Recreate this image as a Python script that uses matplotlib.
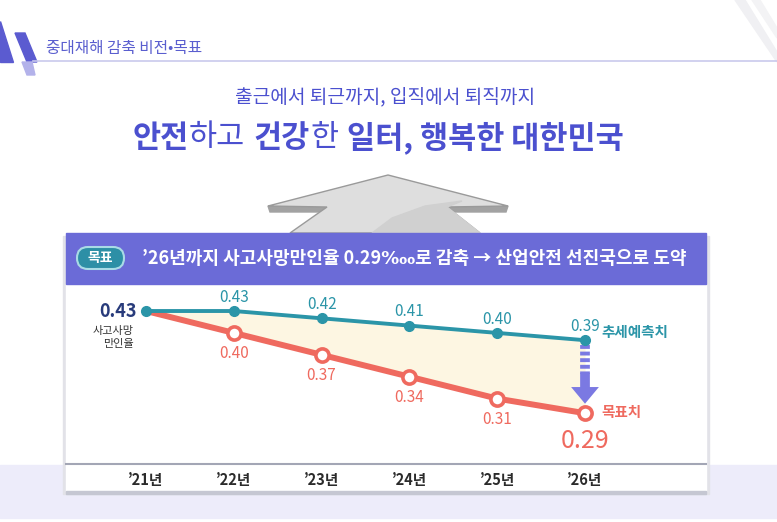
import matplotlib.pyplot as plt
from matplotlib.patches import Polygon, Rectangle, FancyBboxPatch

plt.rcParams['font.family'] = ['Noto Sans CJK KR', 'DejaVu Sans']

# chart data
years = ['’21년', '’22년', '’23년', '’24년', '’25년', '’26년']
trend = [0.43, 0.43, 0.42, 0.41, 0.40, 0.39]    # 추세예측치
target = [0.43, 0.40, 0.37, 0.34, 0.31, 0.29]   # 목표치

# colours
teal = '#2b95a8'
coral = '#ef6a5f'
navy = '#283b7b'
violet = '#4b50cf'
banner = '#6b6bd7'
arrow_purple = '#7b79e2'

W, H = 777, 522
fig = plt.figure(figsize=(W / 100, H / 100), dpi=100)

# background axes in pixel coordinates
bg = fig.add_axes([0, 0, 1, 1])
bg.set_xlim(0, W)
bg.set_ylim(H, 0)
bg.axis('off')


def px_box(x0, y0, x1, y1):
    return [x0 / W, 1 - y1 / H, (x1 - x0) / W, (y1 - y0) / H]


# header
bg.add_patch(Polygon([(0, 21), (0, 62), (13, 62)], color='#5b5bd0'))
bg.add_patch(Polygon([(15, 33), (25, 33), (37, 62), (27, 62)], color='#5b5bd0'))
bg.add_patch(Polygon([(22, 62), (32, 62), (35, 75), (27, 75)], color='#b3b2ea'))
bg.add_patch(Polygon([(735, 0), (745, 0), (777, 52), (777, 62)], color='#f0f0f3'))
bg.add_patch(Polygon([(752, 0), (760, 0), (777, 28), (777, 38)], color='#f3f3f5'))
bg.plot([33, W], [61, 61], color='#c9c9ec', lw=1.2)
bg.text(46, 48, '중대재해 감축 비전•목표', fontsize=11.3, color='#5a5ecf',
        weight='medium', va='center', ha='left')

# vision titles
bg.text(385, 97, '출근에서 퇴근까지, 입직에서 퇴직까지', fontsize=13.8,
        color=violet, weight='medium', ha='center', va='center')

segments = [('안전', 'black', 0), ('하고', 'normal', 0), ('건강', 'black', 9),
            ('한', 'normal', 0), ('일터, 행복한 대한민국', 'black', 9)]
renderer = fig.canvas.get_renderer()
texts = []
widths = []
for seg, weight, gap in segments:
    t = bg.text(0, 138, seg, fontsize=22, color=violet, weight=weight,
                ha='left', va='center')
    texts.append((t, gap))
    widths.append(t.get_window_extent(renderer).width)
total = sum(widths) + sum(g for _, g in texts)
x = 378 - total / 2
for (t, gap), w in zip(texts, widths):
    x += gap
    t.set_x(x)
    x += w

# grey up arrow
bg.add_patch(Polygon([(268, 206), (327, 207), (330, 212), (270, 212)],
                     color='#a2a2a2'))
bg.add_patch(Polygon([(508, 206), (447, 207), (444, 212), (506, 212)],
                     color='#a2a2a2'))
bg.add_patch(Polygon([(388, 175), (508, 206), (447, 207), (480, 233),
                      (290, 233), (327, 207), (268, 206)],
                     fc='#dedede', ec='#9a9a9a', lw=1))
bg.add_patch(Polygon([(372, 233), (392, 218), (425, 206), (462, 201),
                      (447, 207), (480, 233)], color='#d0d0d0'))

# lavender band at the bottom
bg.add_patch(Rectangle((0, 465), W, 53, color='#edecfa'))

# panel with soft shadow
bg.add_patch(Rectangle((63, 236), 646, 258, color='#e2e2e8'))
bg.add_patch(Rectangle((66, 284), 640, 207, color='white'))
bg.add_patch(Rectangle((66, 491), 640, 3, color='#c5c7d2'))

# banner
bg.add_patch(Rectangle((66, 233), 640, 51, color=banner))
bg.add_patch(FancyBboxPatch((77, 247), 47, 22,
                            boxstyle='round,pad=0,rounding_size=11',
                            fc='#2d8fa6', ec='#a9dbe6', lw=1.5))
bg.text(100.5, 258, '목표', fontsize=10, color='white', weight='bold',
        ha='center', va='center')
bg.text(142, 258, '’26년까지 사고사망만인율 0.29‱로 감축 → 산업안전 선진국으로 도약',
        fontsize=13, color='white', weight='bold', ha='left', va='center')

# chart
ax = fig.add_axes(px_box(66, 284, 706, 464))
ax.set_facecolor('none')
ax.set_xlim(-0.911, 6.378)
ax.set_ylim(0.2204, 0.467)
xs = list(range(len(years)))

ax.fill_between(xs, target, trend, color='#fdf6e2', lw=0, zorder=1)
ax.plot(xs, trend, color=teal, lw=2.8, marker='o', ms=7, zorder=3)
ax.plot(xs, target, color=coral, lw=4.3, zorder=2)
ax.plot(xs[1:], target[1:], ls='none', marker='o', ms=9.5, mfc='white',
        mec=coral, mew=2.6, zorder=4)

# purple arrow from the trend to the target
ax.plot([xs[-1], xs[-1]], [trend[-1] - 0.006, trend[-1] - 0.046],
        color=arrow_purple, lw=7, ls=(0, (0.4, 0.28)),
        dash_capstyle='butt', zorder=2)
ax.annotate('', xy=(xs[-1], target[-1] + 0.013),
            xytext=(xs[-1], trend[-1] - 0.045),
            arrowprops=dict(facecolor=arrow_purple, edgecolor='none',
                            width=7, headwidth=20, headlength=12),
            zorder=2)

for i in xs[1:]:
    ax.annotate(f'{trend[i]:.2f}', (i, trend[i]), xytext=(0, 10),
                textcoords='offset points', ha='center', va='center',
                fontsize=11, color=teal, weight='medium')
for i in xs[1:-1]:
    ax.annotate(f'{target[i]:.2f}', (i, target[i]), xytext=(0, -15),
                textcoords='offset points', ha='center', va='center',
                fontsize=11, color=coral, weight='medium')
ax.annotate(f'{target[-1]:.2f}', (xs[-1], target[-1]), xytext=(0, -20),
            textcoords='offset points', ha='center', va='center',
            fontsize=18, color=coral, weight='medium')
ax.annotate(f'{trend[0]:.2f}', (0, trend[0]), xytext=(-7, 0),
            textcoords='offset points', ha='right', va='center',
            fontsize=13, color=navy, weight='bold')
ax.annotate('사고사망\n만인율', (0, trend[0]), xytext=(-9, -19),
            textcoords='offset points', ha='right', va='center',
            fontsize=8, color='#333333', multialignment='right',
            linespacing=1.3)
ax.annotate('추세예측치', (xs[-1], trend[-1]), xytext=(12, 6),
            textcoords='offset points', ha='left', va='center',
            fontsize=10.5, color=teal, weight='bold')
ax.annotate('목표치', (xs[-1], target[-1]), xytext=(12, 1),
            textcoords='offset points', ha='left', va='center',
            fontsize=10.5, color=coral, weight='bold')

ax.set_xticks(xs, years, fontsize=10.5, color='#2b2b2b', weight='bold')
ax.tick_params(axis='x', length=0, pad=6)
ax.set_yticks([])
for side in ['top', 'left', 'right']:
    ax.spines[side].set_visible(False)
ax.spines['bottom'].set_color('#a3a6b5')
ax.spines['bottom'].set_linewidth(1.5)

fig.savefig('out.png', dpi=100)
